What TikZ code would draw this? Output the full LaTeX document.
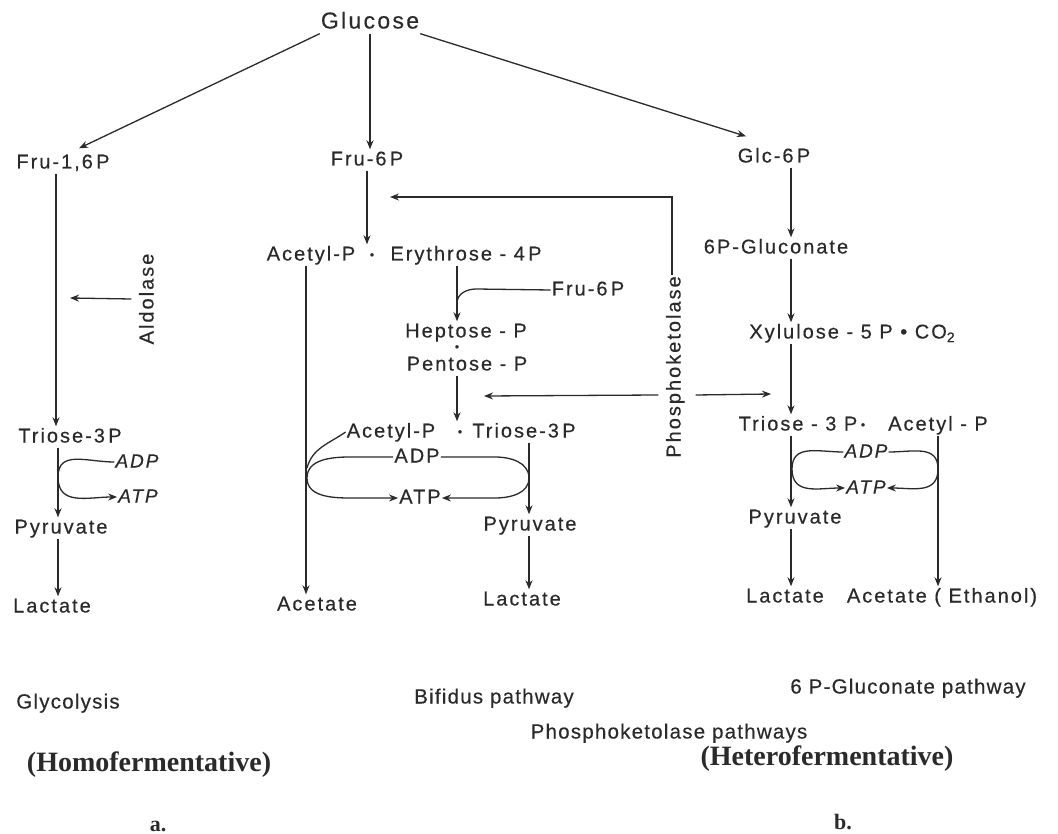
\documentclass[tikz,border=0pt]{standalone}
\usepackage{fontspec}
\setmainfont{Liberation Serif}
\newfontfamily\df[LetterSpace=10,FakeBold=0.4]{Liberation Sans}
\newfontfamily\dfs[LetterSpace=6,FakeBold=0.3]{Liberation Sans}
\usetikzlibrary{arrows.meta}
\definecolor{ink}{HTML}{2A2A2A}
\begin{document}
\begin{tikzpicture}[x=1pt,y=-1pt,
  lab/.style={font=\df\fontsize{20}{22}\selectfont, inner sep=1pt, text height=15pt, text depth=4pt, text=ink},
  big/.style={lab, font=\df\fontsize{23}{25}\selectfont, text height=17pt},
  itl/.style={lab, font=\df\itshape\fontsize{19}{22}\selectfont},
  dotn/.style={font=\df\fontsize{12}{12}\selectfont, inner sep=0pt, text=ink},
  sml/.style={lab, font=\dfs\fontsize{20.5}{22}\selectfont},
  bld/.style={font=\bfseries\fontsize{28}{30}\selectfont, inner sep=1pt, text=ink},
  ln/.style={draw=ink, line width=1.3pt},
  arr/.style={ln, -{Stealth[length=9pt,width=7pt]}}]
\useasboundingbox (0,0) rectangle (1058,834);
\fill[white] (0,0) rectangle (1058,834);

% column coordinates
\coordinate (ca) at (306,0);
\coordinate (cb) at (457,0);
\coordinate (cr) at (529,0);
\coordinate (cc) at (791,0);
\coordinate (cd) at (938,0);
\coordinate (cl) at (56,0);
\coordinate (cl2) at (58,0);

% top
\node[big] (glu) at (370,22) {Glucose};
\node[lab] (f16) at (63,163) {Fru-1,6\,P};
\node[lab] (f6) at (367,160) {Fru-6\,P};
\node[lab] (g6) at (774,157) {Glc-6\,P};
\draw[arr] (glu.south west) -- ([xshift=16pt,yshift=4pt]f16.north);
\draw[arr] (glu.south) -- (glu.south |- f6.north);
\draw[arr] (glu.south east) -- ([xshift=-28pt,yshift=10pt]g6.north);

% glycolysis
\node[lab] (t3a) at (70,437) {Triose-3\,P};
\node[lab,rotate=90] (ald) at (148,299) {Aldolase};
\coordinate (aldtip) at (70,298);
\node[itl] (adp1) at (137,462) {ADP};
\node[itl] (atp1) at (138,497) {ATP};
\node[lab] (pya) at (61,528) {Pyruvate};
\node[lab] (laa) at (52,607) {Lactate};
\draw[arr] (f16.south -| cl) -- (t3a.north -| cl);
\draw[arr] ([xshift=-6pt]ald.north) -- (aldtip);
\draw[arr] (t3a.south -| cl2) -- (pya.north -| cl2);
\draw[arr] (adp1.west) to[out=180,in=90,looseness=1.2] (58,477) to[out=270,in=180,looseness=1.2] (atp1.west);
\draw[arr] (pya.south -| cl2) -- (laa.north -| cl2);

% bifidus
\node[lab] (acp1) at (311,255) {Acetyl-P};
\node[dotn] (d1) at (372,256) {•};
\node[lab] (ery) at (466,255) {Erythrose - 4\,P};
\draw[arr] (f6.south) -- (f6.south |- ery.north);
\node[lab] (f6b) at (588,290) {Fru-6\,P};
\node[lab] (hep) at (466,332) {Heptose - P};
\node[dotn] (d2) at (457,348) {•};
\node[lab] (pen) at (467,365) {Pentose - P};
\draw[arr] (ery.south -| cb) -- (hep.north -| cb);
\draw[ln] (f6b.west) -- (476,289) to[out=180,in=90] (457,303);
\node[lab] (acp2) at (391,432) {Acetyl-P};
\node[dotn] (d3) at (460,433) {•};
\node[lab] (tri2) at (524,432) {Triose-3\,P};
\draw[arr] (pen.south -| cb) -- (acp2.north -| cb);
\node[lab] (adp2) at (417,457) {ADP};
\node[lab] (atp2) at (420,498) {ATP};
\node[lab] (ace) at (317,605) {Acetate};
\node[lab] (pyb) at (530,525) {Pyruvate};
\node[lab] (lab2) at (522,600) {Lactate};
\draw[arr] (acp1.south -| ca) -- (ace.north -| ca);
\draw[ln] (acp2.west) to[out=215,in=75] (307,468);
\draw[arr] (adp2.west) -- (350,457) to[out=180,in=90] (307,478) to[out=270,in=180] (350,498) -- (atp2.west);
\draw[arr] (adp2.east) -- (495,457) to[out=0,in=90] (529,478) to[out=270,in=0] (495,498) -- (atp2.east);
\draw[arr] (tri2.south -| cr) -- (pyb.north -| cr);
\draw[arr] (pyb.south -| cr) -- (lab2.north -| cr);

% phosphoketolase
\node[lab,rotate=90] (pk) at (675,367) {Phosphoketolase};
\coordinate (pktop) at (390,197);
\coordinate (pkh) at (0,395);
\coordinate (pkl) at (484,396);
\coordinate (pkr) at (771,394);
\draw[arr] ([xshift=-3pt]pk.east) |- (pktop);
\draw[arr] ([xshift=-6pt]pk.north |- pkh) -- (pkl);
\draw[arr] ([xshift=10pt]pk.south |- pkh) -- (pkr);

% 6P-gluconate
\node[lab] (gl) at (776,248) {6P-Gluconate};
\node[lab] (xy) at (852,333) {Xylulose - 5 P • CO\raisebox{-0.35ex}{\fontsize{14}{14}\selectfont 2}};
\node[lab] (tri3) at (798,425) {Triose - 3 P};
\node[dotn] (d4) at (863,426) {•};
\node[lab] (acp3) at (938,425) {Acetyl - P};
\node[itl] (adp3) at (866,452) {ADP};
\node[itl] (atp3) at (866,488) {ATP};
\node[lab] (pyc) at (795,518) {Pyruvate};
\node[lab] (lac) at (785,597) {Lactate};
\node[lab] (aceth) at (942,597) {Acetate ( Ethanol)};
\draw[arr] (g6.south -| cc) -- (gl.north -| cc);
\draw[arr] (gl.south -| cc) -- (xy.north -| cc);
\draw[arr] (xy.south -| cc) -- (tri3.north -| cc);
\draw[arr] (tri3.south -| cc) -- (pyc.north -| cc);
\draw[arr] (pyc.south -| cc) -- (lac.north -| cc);
\draw[arr] (acp3.south -| cd) -- (aceth.north -| cd);
\draw[arr] (adp3.west) to[out=180,in=90,looseness=1.2] (792,469) to[out=270,in=180,looseness=1.2] (atp3.west);
\draw[arr] (adp3.east) to[out=0,in=90,looseness=1.2] (938,469) to[out=270,in=0,looseness=1.2] (atp3.east);

% bottom labels
\node[sml] (gly) at (68,703) {Glycolysis};
\node[sml] (bif) at (494,698) {Bifidus pathway};
\node[sml] (gpp) at (908,688) {6 P-Gluconate pathway};
\node[sml] (pkp) at (669,733) {Phosphoketolase pathways};
\node[bld] (homo) at (149,765) {(Homofermentative)};
\node[bld] (hete) at (827,759) {(Heterofermentative)};
\node[bld, font=\bfseries\fontsize{22}{24}\selectfont] (la) at (158,826) {a.};
\node[bld, font=\bfseries\fontsize{22}{24}\selectfont] (lb) at (843,822) {b.};
\end{tikzpicture}
\end{document}
